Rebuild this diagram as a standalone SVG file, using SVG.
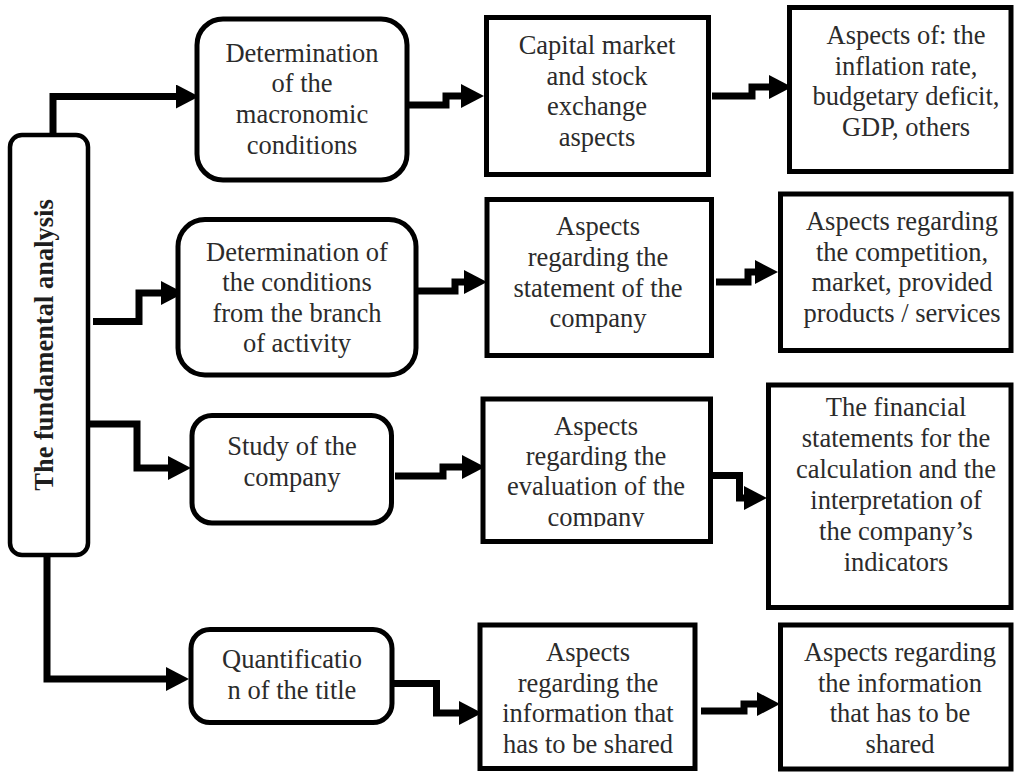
<svg xmlns="http://www.w3.org/2000/svg" width="1014" height="773" viewBox="0 0 1014 773">
  <style>
    .box { fill: #ffffff; stroke: #000000; stroke-width: 5; }
    .main { fill: #ffffff; stroke: #000000; stroke-width: 4.5; }
    .t { font-family: "Liberation Serif", "Times New Roman", Tinos, "DejaVu Serif", serif; font-size: 26.5px; fill: #2b2b2b; text-anchor: middle; }
    .tb { font-family: "Liberation Serif", "Times New Roman", Tinos, "DejaVu Serif", serif; font-size: 26.5px; font-weight: bold; fill: #1e1e1e; text-anchor: middle; }
    .conn { fill: none; stroke: #000000; stroke-width: 7; stroke-linejoin: miter; stroke-linecap: butt; marker-end: url(#arr); }
  </style>
  <defs>
    <marker id="arr" markerUnits="userSpaceOnUse" markerWidth="23" markerHeight="24" viewBox="0 0 23 24" refX="0" refY="12" orient="auto">
      <path d="M0,0 L23,12 L0,24 Z" fill="#000000"/>
    </marker>
    <clipPath id="clipC2">
      <rect x="480" y="395" width="232" height="132"/>
    </clipPath>
  </defs>

  <g id="main">
    <rect class="main" x="10" y="135" width="78" height="420" rx="12"/>
    <text class="tb" font-family="Liberation Serif, serif" transform="translate(53,345) rotate(-90)">The fundamental analysis</text>
  </g>

  <g id="connectors">
    <path class="conn" d="M53,137 V96.5 H176"/>
    <path class="conn" d="M93,321.5 H139 V293 H161"/>
    <path class="conn" d="M86,424 H137 V468 H168"/>
    <path class="conn" d="M47,553 V679 H166"/>
    <path class="conn" d="M404,105 H446 V96 H461"/>
    <path class="conn" d="M712,96 H752 V87 H769"/>
    <path class="conn" d="M413,291 H455 V282 H464"/>
    <path class="conn" d="M716,282 H748 V272 H755"/>
    <path class="conn" d="M395,476 H443 V467 H462"/>
    <path class="conn" d="M711,475.5 H739.5 V498 H744"/>
    <path class="conn" d="M390,683.5 H436.5 V713 H459"/>
    <path class="conn" d="M701,711 H744 V704 H757"/>
  </g>

  <g id="A1">
    <rect class="box" x="197" y="19" width="210" height="161" rx="26"/>
    <text class="t" x="302" y="61.5">Determination</text>
    <text class="t" x="302" y="92">of the</text>
    <text class="t" x="302" y="123">macronomic</text>
    <text class="t" x="302" y="153.5">conditions</text>
  </g>
  <g id="A2">
    <rect class="box" x="486.5" y="17.5" width="222" height="157"/>
    <text class="t" x="597" y="53.5">Capital market</text>
    <text class="t" x="597" y="84.5">and stock</text>
    <text class="t" x="597" y="115">exchange</text>
    <text class="t" x="597" y="145.5">aspects</text>
  </g>
  <g id="A3">
    <rect class="box" x="789.5" y="7.5" width="221.5" height="164"/>
    <text class="t" x="906" y="43.5">Aspects of: the</text>
    <text class="t" x="906" y="74.5">inflation rate,</text>
    <text class="t" x="906" y="105">budgetary deficit,</text>
    <text class="t" x="906" y="135.5">GDP, others</text>
  </g>

  <g id="B1">
    <rect class="box" x="178" y="219.5" width="238" height="155.5" rx="27"/>
    <text class="t" x="297" y="260.5">Determination of</text>
    <text class="t" x="297" y="291">the conditions</text>
    <text class="t" x="297" y="321.5">from the branch</text>
    <text class="t" x="297" y="352">of activity</text>
  </g>
  <g id="B2">
    <rect class="box" x="487" y="199.5" width="224.5" height="156"/>
    <text class="t" x="598" y="235">Aspects</text>
    <text class="t" x="598" y="265.5">regarding the</text>
    <text class="t" x="598" y="296.5">statement of the</text>
    <text class="t" x="598" y="327">company</text>
  </g>
  <g id="B3">
    <rect class="box" x="780.5" y="194" width="230.5" height="156.5"/>
    <text class="t" x="902" y="230">Aspects regarding</text>
    <text class="t" x="902" y="260.5">the competition,</text>
    <text class="t" x="902" y="291">market, provided</text>
    <text class="t" x="902" y="321.5">products / services</text>
  </g>

  <g id="C1">
    <rect class="box" x="192" y="415.5" width="199.5" height="107.5" rx="20"/>
    <text class="t" x="292" y="455">Study of the</text>
    <text class="t" x="292" y="486">company</text>
  </g>
  <g id="C2">
    <rect class="box" x="483" y="399" width="227.5" height="142.5"/>
    <text class="t" x="596" y="434.5">Aspects</text>
    <text class="t" x="596" y="464.5">regarding the</text>
    <text class="t" x="596" y="495">evaluation of the</text>
    <text class="t" x="596" y="525.5" clip-path="url(#clipC2)">company</text>
  </g>
  <g id="C3">
    <rect class="box" x="768.5" y="385" width="242.5" height="222.5"/>
    <text class="t" x="896" y="416">The financial</text>
    <text class="t" x="896" y="447">statements for the</text>
    <text class="t" x="896" y="478">calculation and the</text>
    <text class="t" x="896" y="509">interpretation of</text>
    <text class="t" x="896" y="540">the company’s</text>
    <text class="t" x="896" y="571">indicators</text>
  </g>

  <g id="D1">
    <rect class="box" x="191" y="629.5" width="201" height="93" rx="19"/>
    <text class="t" x="292" y="668">Quantificatio</text>
    <text class="t" x="292" y="698.5">n of the title</text>
  </g>
  <g id="D2">
    <rect class="box" x="480" y="625" width="215" height="143.5"/>
    <text class="t" x="588" y="661">Aspects</text>
    <text class="t" x="588" y="691.5">regarding the</text>
    <text class="t" x="588" y="722">information that</text>
    <text class="t" x="588" y="752.5">has to be shared</text>
  </g>
  <g id="D3">
    <rect class="box" x="780.5" y="625" width="230.5" height="144"/>
    <text class="t" x="900" y="661">Aspects regarding</text>
    <text class="t" x="900" y="691.5">the information</text>
    <text class="t" x="900" y="722">that has to be</text>
    <text class="t" x="900" y="752.5">shared</text>
  </g>
</svg>
